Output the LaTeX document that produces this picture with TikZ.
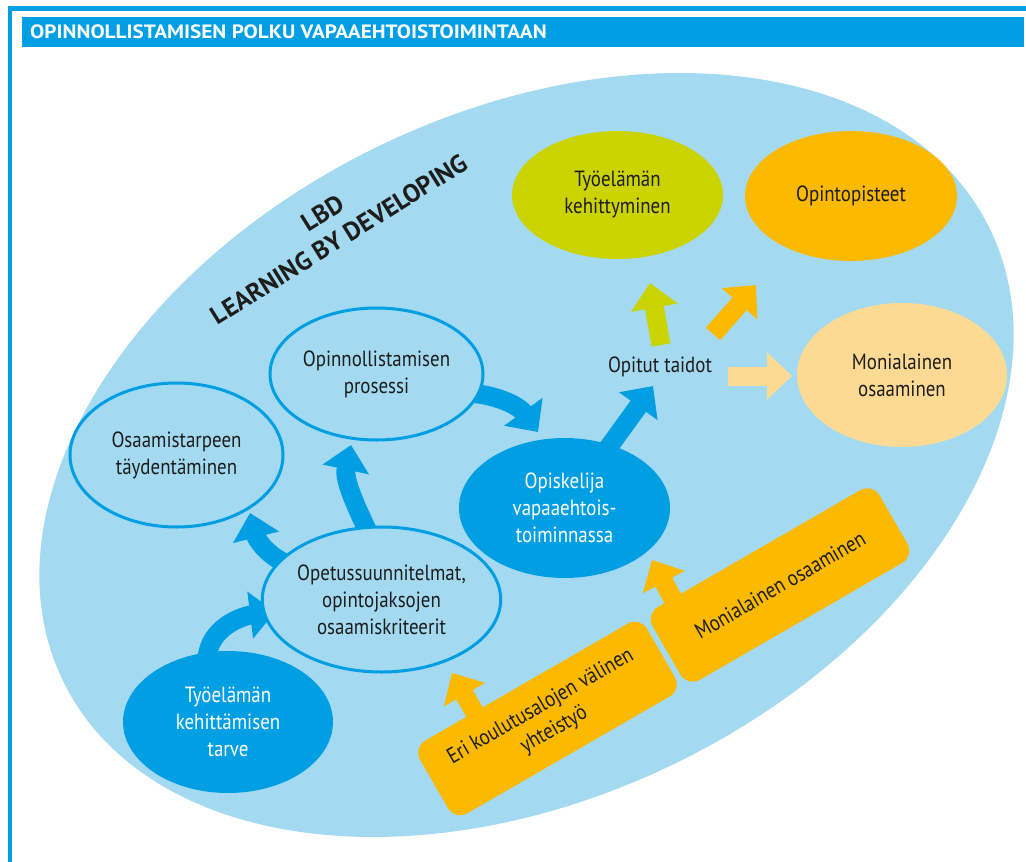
\documentclass[tikz,border=0pt]{standalone}
\usepackage{fontspec}
\setmainfont{PT Sans}
\newfontfamily\condf{PT Sans}[FakeStretch=0.86]
\newfontfamily\titlef{PT Sans}[FakeStretch=1.1]
\usetikzlibrary{arrows.meta,shapes.geometric,calc}
\definecolor{cyanb}{HTML}{009FE3}
\definecolor{bgb}{HTML}{A3DAF2}
\definecolor{limec}{HTML}{CBD300}
\definecolor{orng}{HTML}{FBBA00}
\definecolor{lorng}{HTML}{FDDA94}
\definecolor{ink}{HTML}{1D1D1B}
\tikzset{
  lbl/.style={font={\condf\fontsize{22}{27}\selectfont}, text=ink, align=center},
  ringnode/.style={ellipse, draw=cyanb, line width=3pt, fill=bgb, inner sep=0pt},
  darkoval/.style={ellipse, fill=cyanb, inner sep=0pt, text=white},
  fat/.style={line width=19pt, -{Triangle[length=25pt,width=46pt]}},
  obox/.style={rectangle, rounded corners=14pt, fill=orng, minimum width=262pt, minimum height=84pt, rotate=30, inner sep=0pt},
}
\begin{document}
\begin{tikzpicture}[x=1pt,y=1pt]
\fill[white] (0,0) rectangle (1026,-862);
\useasboundingbox (0,0) rectangle (1026,-862);
% frame
\fill[cyanb] (8,-6) rectangle (1026,-11);
\fill[cyanb] (8,-6) rectangle (12,-862);
\fill[cyanb] (22,-17) rectangle (1024,-47);
\node[anchor=west, text=white, font={\titlef\bfseries\fontsize{19.3}{21}\selectfont}, inner sep=0pt] (title) at (30,-32) {OPINNOLLISTAMISEN POLKU VAPAAEHTOISTOIMINTAAN};
% big background ellipse
\fill[bgb, rotate around={26.05:(526.5,-455)}] (526.5,-455) ellipse [x radius=515.6, y radius=342.4];
% LBD label
\node[rotate=32, align=center, text=ink, font={\bfseries\fontsize{25.5}{31}\selectfont}] (lbd) at (331,-226) {LBD\\LEARNING BY DEVELOPING};
% coordinates for arrow ends
\coordinate (tP) at (538,-432);
\coordinate (tQ) at (351,-445);
\coordinate (tR) at (250,-513);
\coordinate (tS) at (275,-612);
\coordinate (tD) at (653,-386);
\coordinate (sL) at (661,-345);
\coordinate (tL) at (650,-283);
\coordinate (sO) at (713,-334);
\coordinate (tO) at (756,-285);
\coordinate (sM) at (728,-376);
\coordinate (tM) at (792,-376);
\coordinate (sB1) at (675,-603);
\coordinate (tB1) at (652,-560);
\coordinate (sB2) at (475,-713);
\coordinate (tB2) at (452,-673);
% curved arrows
\draw[fat, cyanb] (470,-393) to[out=-5, in=126] (tP);
\draw[fat, cyanb] (368,-532) to[out=115, in=-102] (tQ);
\draw[fat, cyanb] (292,-566) to[out=160, in=-76] (tR);
\draw[fat, cyanb] (207,-660) to[out=88, in=187] (tS);
% nodes
\node[ringnode, lbl, minimum width=213pt, minimum height=144pt] (osaam) at (176.5,-455) {Osaamistarpeen\\täydentäminen};
\node[ringnode, lbl, minimum width=213pt, minimum height=132pt] (proc) at (376.5,-374) {Opinnollistamisen\\prosessi};
\node[ringnode, lbl, minimum width=213pt, minimum height=145pt] (opetus) at (381.5,-599.5) {Opetussuunnitelmat,\\opintojaksojen\\osaamiskriteerit};
\node[darkoval, lbl, text=white, minimum width=210pt, minimum height=142pt] (tarve) at (228,-722) {Työelämän\\kehittämisen\\tarve};
\draw[fat, cyanb] (564.5,-508) -- (tD);
\node[darkoval, lbl, text=white, minimum width=211pt, minimum height=140pt] (opisk) at (564.5,-508) {Opiskelija\\vapaaehtois-\\toiminnassa};
\node[ellipse, fill=limec, inner sep=0pt, lbl, minimum width=211pt, minimum height=128pt] (keh) at (617.5,-195) {Työelämän\\kehittyminen};
\node[ellipse, fill=orng, inner sep=0pt, lbl, minimum width=212pt, minimum height=130pt] (pist) at (851,-196) {Opintopisteet};
\node[ellipse, fill=lorng, inner sep=0pt, lbl, minimum width=210pt, minimum height=144pt] (moni) at (902,-375) {Monialainen\\osaaminen};
\node[lbl] (taidot) at (660,-367) {Opitut taidot};
% straight arrows
\draw[fat, limec] (sL) -- (tL);
\draw[fat, orng] (sO) -- (tO);
\draw[fat, lorng] (sM) -- (tM);
\draw[fat, orng] (sB1) -- (tB1);
\draw[fat, orng] (sB2) -- (tB2);
% orange boxes
\node[obox, lbl] (mbox) at (780,-585) {Monialainen osaaminen};
\node[obox, lbl] (ebox) at (547.5,-718.5) {Eri koulutusalojen välinen\\yhteistyö};
\end{tikzpicture}
\end{document}
